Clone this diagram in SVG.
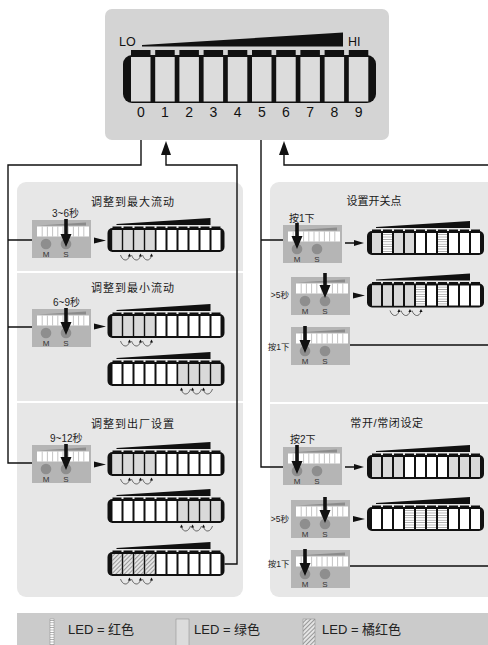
<svg xmlns="http://www.w3.org/2000/svg" xmlns:xlink="http://www.w3.org/1999/xlink" width="488" height="645" viewBox="0 0 488 645">
<style>
text{font-family:"Liberation Sans","Noto Sans CJK SC",sans-serif;fill:#222}
.ttl{font-size:11px;letter-spacing:1px;text-anchor:middle;fill:#1a1a1a}
.sm{font-size:10px}
.xs{font-size:8.5px;text-anchor:end}
.ms{font-size:8px;text-anchor:middle;fill:#333}
.dig{font-size:14px;text-anchor:middle;fill:#111}
.g{fill:#d9d9d9}
.r{fill:url(#red)}
.o{fill:url(#orange)}
.ln{fill:none;stroke:#111;stroke-width:1.4}
.curl{fill:none;stroke:#333;stroke-width:0.7}
.blk{fill:#111}
</style>
<defs>
<pattern id="red" width="4" height="2.4" patternUnits="userSpaceOnUse"><rect width="4" height="2.4" fill="#fff"/><line x1="0" y1="1.2" x2="4" y2="1.2" stroke="#8a8a8a" stroke-width="0.7"/></pattern>
<pattern id="orange" width="3" height="3" patternUnits="userSpaceOnUse" patternTransform="rotate(45)"><rect width="3" height="3" fill="#e4e4e4"/><line x1="0.5" y1="0" x2="0.5" y2="3" stroke="#777" stroke-width="0.7"/></pattern>
<g id="bf">
<polygon points="9,-3 103,-3 103,-10 9,-4" fill="#111"/>
<rect x="0" y="0" width="117" height="24" rx="5" fill="#111"/>
<path d="M5 -1.6h9v2h-9z M16 -1.6h9v2h-9z M27 -1.6h9v2h-9z M38 -1.6h9v2h-9z M49 -1.6h9v2h-9z M60 -1.6h9v2h-9z M71 -1.6h9v2h-9z M82 -1.6h9v2h-9z M93 -1.6h9v2h-9z M104 -1.6h9v2h-9z" fill="#111"/>
<path d="M5 2h9v20h-9z M16 2h9v20h-9z M27 2h9v20h-9z M38 2h9v20h-9z M49 2h9v20h-9z M60 2h9v20h-9z M71 2h9v20h-9z M82 2h9v20h-9z M93 2h9v20h-9z M104 2h9v20h-9z" fill="#fff"/>
</g>
<g id="curl">
<path class="curl" d="M-9,27 C-7,33 -2,34 0,28"/>
<polygon points="-1.6,28.5 1.6,28.5 0,25.5" fill="#111"/>
</g>
<g id="curlsA"><use xlink:href="#curl" x="22"/><use xlink:href="#curl" x="33"/><use xlink:href="#curl" x="44"/></g>
<g id="curlsC"><use xlink:href="#curl" x="32"/><use xlink:href="#curl" x="43"/><use xlink:href="#curl" x="54"/></g>
<g id="curlsB"><g transform="translate(74,0) scale(-1,1)"><use xlink:href="#curl"/></g><g transform="translate(85,0) scale(-1,1)"><use xlink:href="#curl"/></g><g transform="translate(96,0) scale(-1,1)"><use xlink:href="#curl"/></g></g>
<g id="btn">
<rect width="59" height="38" fill="#b5b5b5"/>
<polygon points="6,5.5 54,5.5 54,2.5" fill="#8c8c8c"/>
<rect x="5" y="6.5" width="52" height="10" fill="#fff"/>
<path d="M10.2 6.5v10M15.4 6.5v10M20.6 6.5v10M25.8 6.5v10M31 6.5v10M36.2 6.5v10M41.4 6.5v10M46.6 6.5v10M51.8 6.5v10" stroke="#b5b5b5" stroke-width="0.8"/>
<circle cx="14" cy="24" r="5.3" fill="#8e8e8e"/>
<circle cx="34" cy="24" r="5.3" fill="#8e8e8e"/>
<text x="14" y="36.5" class="ms">M</text><text x="34" y="36.5" class="ms">S</text>
</g>
</defs>

<!-- panels -->
<g id="panels">
<rect x="17" y="182" width="226" height="415" rx="9" fill="#e7e7e7"/>
<line x1="17" y1="272" x2="243" y2="272" stroke="#fff" stroke-width="2"/>
<line x1="17" y1="402" x2="243" y2="402" stroke="#fff" stroke-width="2"/>
<rect x="270" y="182" width="240" height="415" rx="9" fill="#e7e7e7"/>
<line x1="270" y1="403" x2="488" y2="403" stroke="#fff" stroke-width="2"/>
</g>

<!-- top display -->
<g id="display">
<rect x="105" y="9" width="284" height="131" rx="7" fill="#d4d4d4"/>
<text x="119" y="46" style="font-size:12.5px;fill:#111">LO</text>
<text x="348" y="46" style="font-size:12.5px;fill:#111">HI</text>
<polygon points="142,46.5 343,46.5 343,32.5 142,45" fill="#111"/>
<rect x="123" y="55" width="253" height="48" rx="9" fill="#111"/>
<g fill="#111">
<rect x="131" y="50" width="19.5" height="6"/><rect x="155.2" y="50" width="19.5" height="6"/><rect x="179.4" y="50" width="19.5" height="6"/><rect x="203.6" y="50" width="19.5" height="6"/><rect x="227.8" y="50" width="19.5" height="6"/><rect x="252" y="50" width="19.5" height="6"/><rect x="276.2" y="50" width="19.5" height="6"/><rect x="300.4" y="50" width="19.5" height="6"/><rect x="324.6" y="50" width="19.5" height="6"/><rect x="348.8" y="50" width="19.5" height="6"/>
</g>
<g fill="#dcdcdc">
<rect x="131" y="57" width="19.5" height="44.5"/><rect x="155.2" y="57" width="19.5" height="44.5"/><rect x="179.4" y="57" width="19.5" height="44.5"/><rect x="203.6" y="57" width="19.5" height="44.5"/><rect x="227.8" y="57" width="19.5" height="44.5"/><rect x="252" y="57" width="19.5" height="44.5"/><rect x="276.2" y="57" width="19.5" height="44.5"/><rect x="300.4" y="57" width="19.5" height="44.5"/><rect x="324.6" y="57" width="19.5" height="44.5"/><rect x="348.8" y="57" width="19.5" height="44.5"/>
</g>
<text class="dig" x="140.8" y="117">0</text><text class="dig" x="165" y="117">1</text><text class="dig" x="189.2" y="117">2</text><text class="dig" x="213.4" y="117">3</text><text class="dig" x="237.6" y="117">4</text><text class="dig" x="261.8" y="117">5</text><text class="dig" x="286" y="117">6</text><text class="dig" x="310.2" y="117">7</text><text class="dig" x="334.4" y="117">8</text><text class="dig" x="358.6" y="117">9</text>
</g>

<!-- connectors -->
<g id="connectors">
<path class="ln" d="M141,140 V165 H8 V463 H32 M8,240 H32 M8,327 H32"/>
<path class="ln" d="M224.5,564 H237 V165 H166 V154"/>
<polygon class="blk" points="166,141 161,155 171,155"/>
<path class="ln" d="M261,140 V467 H283 M261,240 H283"/>
<path class="ln" d="M488,165 H284 V154"/>
<polygon class="blk" points="284,141 279,155 289,155"/>
<path class="ln" d="M350,345 H488 M350,566 H488"/>
<polygon class="blk" points="94,237.5 106,240.5 94,243.5"/>
<polygon class="blk" points="94,323.5 106,326.5 94,329.5"/>
<polygon class="blk" points="94,461.5 106,464.5 94,467.5"/>
<path class="ln" d="M345,243 H356 M345,467 H356"/>
<polygon class="blk" points="354,240 364,243 354,246"/>
<polygon class="blk" points="354,464 364,467 354,470"/>
<polygon class="blk" points="353,292.5 365,295.5 353,298.5"/>
<polygon class="blk" points="353,516 365,519 353,522"/>
</g>

<!-- left section 1 -->
<g id="max-flow">
<text class="ttl" x="133" y="205.5">调整到最大流动</text>
<text class="sm" x="52" y="217">3~6秒</text>
<use xlink:href="#btn" x="32" y="220"/>
<polygon class="blk" points="64.2,219 67.8,219 67.8,234 71.5,234 66,247 60.5,234 64.2,234"/>
<g transform="translate(107.5,228)"><use xlink:href="#bf"/><path class="g" d="M5 2h9v20h-9z M16 2h9v20h-9z M27 2h9v20h-9z M38 2h9v20h-9z"/><use xlink:href="#curlsA"/></g>
</g>

<!-- left section 2 -->
<g id="min-flow">
<text class="ttl" x="133" y="292">调整到最小流动</text>
<text class="sm" x="53" y="306">6~9秒</text>
<use xlink:href="#btn" x="32" y="309"/>
<polygon class="blk" points="64.2,308 67.8,308 67.8,322 71.5,322 66,335 60.5,322 64.2,322"/>
<g transform="translate(107.5,314)"><use xlink:href="#bf"/><path class="g" d="M5 2h9v20h-9z M16 2h9v20h-9z M27 2h9v20h-9z M38 2h9v20h-9z"/><use xlink:href="#curlsA"/></g>
<g transform="translate(107.5,362)"><use xlink:href="#bf"/><path class="g" d="M71 2h9v20h-9z M82 2h9v20h-9z M93 2h9v20h-9z M104 2h9v20h-9z"/><use xlink:href="#curlsB"/></g>
</g>

<!-- left section 3 -->
<g id="factory">
<text class="ttl" x="133" y="427.5">调整到出厂设置</text>
<text class="sm" x="50" y="441.5">9~12秒</text>
<use xlink:href="#btn" x="32" y="445"/>
<polygon class="blk" points="64.2,444 67.8,444 67.8,457 71.5,457 66,470 60.5,457 64.2,457"/>
<g transform="translate(107.5,452)"><use xlink:href="#bf"/><path class="g" d="M5 2h9v20h-9z M16 2h9v20h-9z M27 2h9v20h-9z M38 2h9v20h-9z"/><use xlink:href="#curlsA"/></g>
<g transform="translate(107.5,499)"><use xlink:href="#bf"/><path class="g" d="M71 2h9v20h-9z M82 2h9v20h-9z M93 2h9v20h-9z M104 2h9v20h-9z"/><use xlink:href="#curlsB"/></g>
<g transform="translate(107.5,552)"><use xlink:href="#bf"/><path class="o" d="M5 2h9v20h-9z M16 2h9v20h-9z M27 2h9v20h-9z M38 2h9v20h-9z"/><use xlink:href="#curlsA"/></g>
</g>

<!-- right section 1 -->
<g id="switch-point">
<text class="ttl" x="374" y="205" style="letter-spacing:0">设置开关点</text>
<text class="sm" x="289" y="222">按1下</text>
<use xlink:href="#btn" x="283" y="225"/>
<polygon class="blk" points="295.2,223 298.8,223 298.8,236 302.5,236 297,249 291.5,236 295.2,236"/>
<g transform="translate(367,231)"><use xlink:href="#bf"/><path class="g" d="M5 2h9v20h-9z M27 2h9v20h-9z M38 2h9v20h-9z"/><path class="r" d="M16 2h9v20h-9z M71 2h9v20h-9z"/></g>
<text class="xs" x="289" y="298">&gt;5秒</text>
<use xlink:href="#btn" x="291" y="277"/>
<polygon class="blk" points="323.2,273 326.8,273 326.8,285 330.5,285 325,298 319.5,285 323.2,285"/>
<g transform="translate(367,283.5)"><use xlink:href="#bf"/><path class="g" d="M5 2h9v20h-9z M16 2h9v20h-9z M27 2h9v20h-9z M38 2h9v20h-9z"/><path class="r" d="M49 2h9v20h-9z M71 2h9v20h-9z"/><use xlink:href="#curlsC"/></g>
<text class="xs" x="289.5" y="350">按1下</text>
<use xlink:href="#btn" x="291" y="327"/>
<polygon class="blk" points="303.2,326 306.8,326 306.8,340 310.5,340 305,353 299.5,340 303.2,340"/>
</g>

<!-- right section 2 -->
<g id="no-nc">
<text class="ttl" x="387" y="427" style="letter-spacing:0.6px">常开/常闭设定</text>
<text class="sm" x="290" y="443">按2下</text>
<use xlink:href="#btn" x="283" y="447"/>
<polygon class="blk" points="295.2,445 298.8,445 298.8,461 302.5,461 297,474 291.5,461 295.2,461"/>
<g transform="translate(367,455)"><use xlink:href="#bf"/><path class="g" d="M5 2h9v20h-9z M16 2h9v20h-9z M27 2h9v20h-9z M82 2h9v20h-9z M93 2h9v20h-9z M104 2h9v20h-9z"/></g>
<text class="xs" x="289" y="522">&gt;5秒</text>
<use xlink:href="#btn" x="291" y="500"/>
<polygon class="blk" points="323.2,497 326.8,497 326.8,510 330.5,510 325,523 319.5,510 323.2,510"/>
<g transform="translate(367,507)"><use xlink:href="#bf"/><path class="r" d="M38 2h9v20h-9z M49 2h9v20h-9z M60 2h9v20h-9z M71 2h9v20h-9z"/></g>
<text class="xs" x="289.5" y="567">按1下</text>
<use xlink:href="#btn" x="291" y="550"/>
<polygon class="blk" points="303.2,549 306.8,549 306.8,563 310.5,563 305,576 299.5,563 303.2,563"/>
</g>

<!-- legend -->
<g id="legend">
<rect x="17" y="613" width="471" height="32" fill="#cbcbcb"/>
<rect x="50" y="619" width="4" height="27" fill="url(#red)" stroke="#888" stroke-width="0.5"/>
<text x="68" y="634" style="font-size:13px">LED = 红色</text>
<rect x="176" y="619" width="13" height="27" fill="#dcdcdc" stroke="#888" stroke-width="0.5"/>
<text x="194" y="634" style="font-size:13px">LED = 绿色</text>
<rect x="303" y="619" width="12" height="27" fill="url(#orange)" stroke="#888" stroke-width="0.5"/>
<text x="322" y="634" style="font-size:13px">LED = 橘红色</text>
</g>
</svg>
